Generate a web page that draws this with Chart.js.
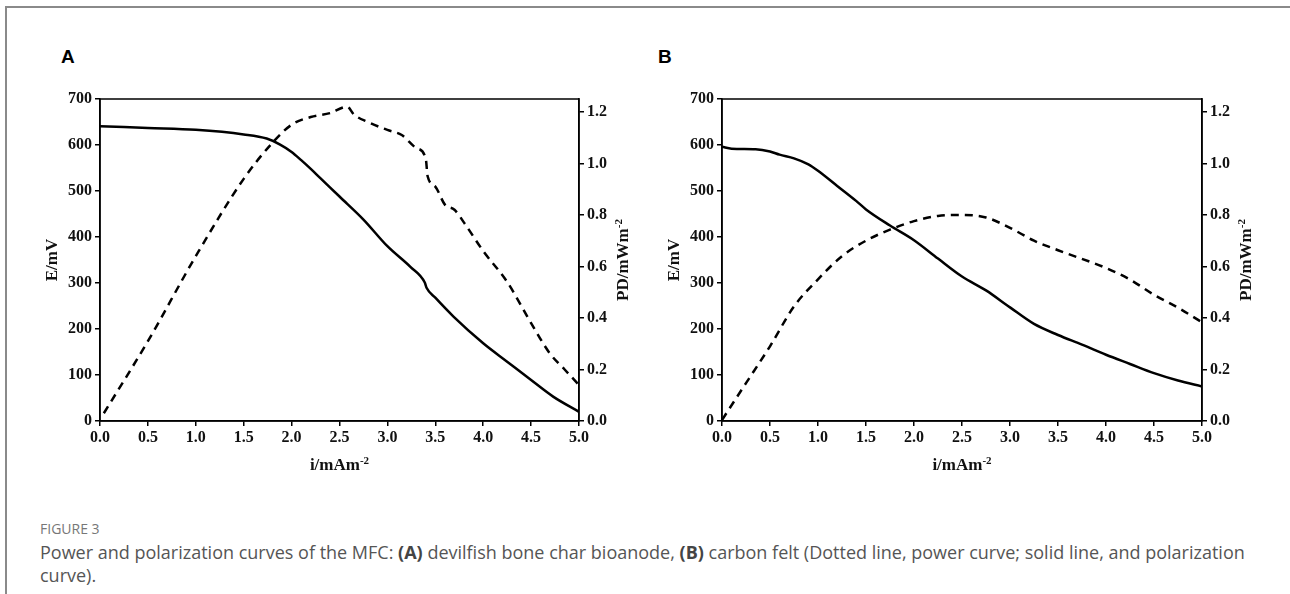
<!DOCTYPE html>
<html>
<head>
<meta charset="utf-8">
<script src="https://cdn.jsdelivr.net/npm/chart.js@4.4.1/dist/chart.umd.min.js"></script>
<style>
  html, body { margin: 0; padding: 0; background: #fff; }
  body { width: 1290px; height: 594px; position: relative; overflow: hidden; }
  .frame { position: absolute; left: 5px; top: 6px; width: 1300px; height: 600px;
           border-left: 2px solid #8a8a8a; border-top: 2px solid #8a8a8a; }
  .panel-letter { position: absolute; font: bold 19px "Liberation Sans", Arial, sans-serif; color: #000; }
  .chart-box { position: absolute; }
  .caption-head { position: absolute; left: 40px; top: 519px; font: 14px "Open Sans", sans-serif; color: #777; }
  .caption { position: absolute; left: 40px; top: 541px; font: 18px/23px "Open Sans", sans-serif; color: #555; white-space: nowrap; }
  .caption b { font-weight: 700; color: #444; }
</style>
</head>
<body>
<div class="frame"></div>
<div class="panel-letter" style="left:61px; top:46px;">A</div>
<div class="panel-letter" style="left:658px; top:46px;">B</div>

<div class="chart-box" style="left:40px; top:85px; width:600px; height:395px;">
  <canvas id="chartA" width="600" height="395"></canvas>
</div>
<div class="chart-box" style="left:662px; top:85px; width:601px; height:395px;">
  <canvas id="chartB" width="601" height="395"></canvas>
</div>

<div class="caption-head">FIGURE 3</div>
<div class="caption">Power and polarization curves of the MFC: <b>(A)</b> devilfish bone char bioanode, <b>(B)</b> carbon felt (Dotted line, power curve; solid line, and polarization<br>curve).</div>

<script>
// Panel A: devilfish bone char bioanode
const aCurrentE = [0, 0.5, 1.0, 1.5, 1.74, 1.88, 2.0, 2.1, 2.2, 2.3, 2.4, 2.5, 2.75, 3.0, 3.24, 3.39, 3.41, 3.5, 3.69, 4.0, 4.25, 4.5, 4.73, 5.0];
const aVoltage  = [641, 637, 633, 623, 614, 601, 585, 567, 548, 528, 508, 488, 438, 380, 335, 301, 289, 268, 227, 169, 129, 89, 53, 20];
const aCurrentP = [0.04, 0.5, 1.0, 1.5, 1.8, 2.0, 2.2, 2.4, 2.58, 2.65, 2.8, 3.0, 3.15, 3.3, 3.4, 3.42, 3.5, 3.6, 3.7, 3.8, 4.0, 4.25, 4.5, 4.7, 4.85, 5.0];
const aPower    = [0.03, 0.31, 0.64, 0.94, 1.08, 1.15, 1.18, 1.195, 1.22, 1.19, 1.16, 1.13, 1.11, 1.06, 1.02, 0.95, 0.91, 0.84, 0.82, 0.77, 0.66, 0.54, 0.38, 0.26, 0.2, 0.14];

// Panel B: carbon felt
const bCurrentE = [0, 0.1, 0.35, 0.5, 0.6, 0.75, 0.9, 1.0, 1.2, 1.4, 1.5, 1.75, 2.0, 2.25, 2.5, 2.75, 3.0, 3.25, 3.5, 3.75, 4.0, 4.25, 4.5, 4.75, 5.0];
const bVoltage  = [596, 592, 591, 586, 579, 571, 558, 544, 511, 478, 460, 425, 393, 353, 314, 284, 247, 211, 187, 166, 144, 124, 104, 88, 75];
const bCurrentP = [0, 0.25, 0.5, 0.75, 1.0, 1.25, 1.5, 1.75, 2.0, 2.25, 2.5, 2.75, 3.0, 3.25, 3.5, 4.0, 4.25, 4.5, 4.75, 5.0];
const bPower    = [0.004, 0.147, 0.29, 0.445, 0.55, 0.64, 0.70, 0.743, 0.776, 0.796, 0.80, 0.79, 0.75, 0.70, 0.663, 0.594, 0.549, 0.49, 0.44, 0.383];

// Axis ticks
const xTicks = { min: 0, max: 5, step: 0.5 };
const eTicks = { min: 0, max: 700, step: 100 };
const pdTicks = { min: 0, max: 1.25, step: 0.2 };

const xTitle = ['i/mAm', '-2'];
const eTitle = 'E/mV';
const pdTitle = ['PD/mWm', '-2'];

const serif = '"Liberation Serif", "Times New Roman", serif';
const tickFont = { family: serif, size: 16, weight: 'bold' };

function pts(xs, ys) {
  return xs.map((x, i) => ({ x, y: ys[i] }));
}

// draw text with a small raised part, e.g. mAm^-2
function drawSup(ctx, parts, x, y, size) {
  const small = Math.round(size * 0.62);
  ctx.font = 'bold ' + size + 'px ' + serif;
  const w1 = ctx.measureText(parts[0]).width;
  ctx.font = 'bold ' + small + 'px ' + serif;
  const w2 = ctx.measureText(parts[1]).width;
  const start = x - (w1 + w2) / 2;
  ctx.textAlign = 'left';
  ctx.textBaseline = 'middle';
  ctx.font = 'bold ' + size + 'px ' + serif;
  ctx.fillText(parts[0], start, y);
  ctx.font = 'bold ' + small + 'px ' + serif;
  ctx.fillText(parts[1], start + w1, y - size * 0.3);
}

const framePlugin = {
  id: 'frameAndTitles',
  afterDraw(chart) {
    const { ctx, chartArea: a } = chart;
    ctx.save();
    ctx.strokeStyle = '#000';
    ctx.lineWidth = 1.5;
    ctx.strokeRect(a.left, a.top, a.right - a.left, a.bottom - a.top);
    ctx.fillStyle = '#111';

    // bottom title
    drawSup(ctx, xTitle, (a.left + a.right) / 2, a.bottom + 45, 17);

    // left title
    ctx.save();
    ctx.translate(13, (a.top + a.bottom) / 2);
    ctx.rotate(-Math.PI / 2);
    ctx.font = 'bold 17px ' + serif;
    ctx.textAlign = 'center';
    ctx.textBaseline = 'middle';
    ctx.fillText(eTitle, 0, 0);
    ctx.restore();

    // right title
    ctx.save();
    ctx.translate(a.right + 45, (a.top + a.bottom) / 2);
    ctx.rotate(-Math.PI / 2);
    drawSup(ctx, pdTitle, 0, 0, 17);
    ctx.restore();

    ctx.restore();
  }
};

function makeChart(id, curE, volt, curP, pow) {
  const axisLine = { display: true, color: '#000', width: 1.5 };
  const tickGrid = { drawOnChartArea: false, drawTicks: true, tickLength: 5, color: '#000', lineWidth: 1.5 };
  return new Chart(document.getElementById(id), {
    type: 'line',
    data: {
      datasets: [
        {
          label: 'Polarization',
          data: pts(curE, volt),
          yAxisID: 'y',
          borderColor: '#000',
          borderWidth: 2.5,
          pointRadius: 0,
          cubicInterpolationMode: 'monotone',
          fill: false
        },
        {
          label: 'Power',
          data: pts(curP, pow),
          yAxisID: 'y1',
          borderColor: '#000',
          borderWidth: 2.5,
          borderDash: [8, 6],
          pointRadius: 0,
          cubicInterpolationMode: 'monotone',
          fill: false
        }
      ]
    },
    options: {
      responsive: false,
      animation: false,
      layout: { padding: { top: 14, left: 0, right: 0, bottom: 0 } },
      plugins: {
        legend: { display: false },
        title: { display: false },
        tooltip: { enabled: false }
      },
      scales: {
        x: {
          type: 'linear',
          min: xTicks.min,
          max: xTicks.max,
          border: axisLine,
          grid: tickGrid,
          ticks: {
            stepSize: xTicks.step,
            includeBounds: false,
            maxRotation: 0,
            autoSkip: false,
            padding: 2,
            color: '#111',
            font: tickFont,
            callback: v => v.toFixed(1)
          },
          afterFit(s) { s.height = 59; }
        },
        y: {
          position: 'left',
          min: eTicks.min,
          max: eTicks.max,
          border: axisLine,
          grid: tickGrid,
          ticks: {
            stepSize: eTicks.step,
            includeBounds: false,
            padding: 3,
            color: '#111',
            font: tickFont
          },
          afterFit(s) { s.width = 60; }
        },
        y1: {
          position: 'right',
          min: pdTicks.min,
          max: pdTicks.max,
          border: axisLine,
          grid: tickGrid,
          ticks: {
            stepSize: pdTicks.step,
            includeBounds: false,
            padding: 3,
            color: '#111',
            font: tickFont,
            callback: v => v.toFixed(1)
          },
          afterFit(s) { s.width = 61; }
        }
      }
    },
    plugins: [framePlugin]
  });
}

makeChart('chartA', aCurrentE, aVoltage, aCurrentP, aPower);
makeChart('chartB', bCurrentE, bVoltage, bCurrentP, bPower);
</script>
</body>
</html>
